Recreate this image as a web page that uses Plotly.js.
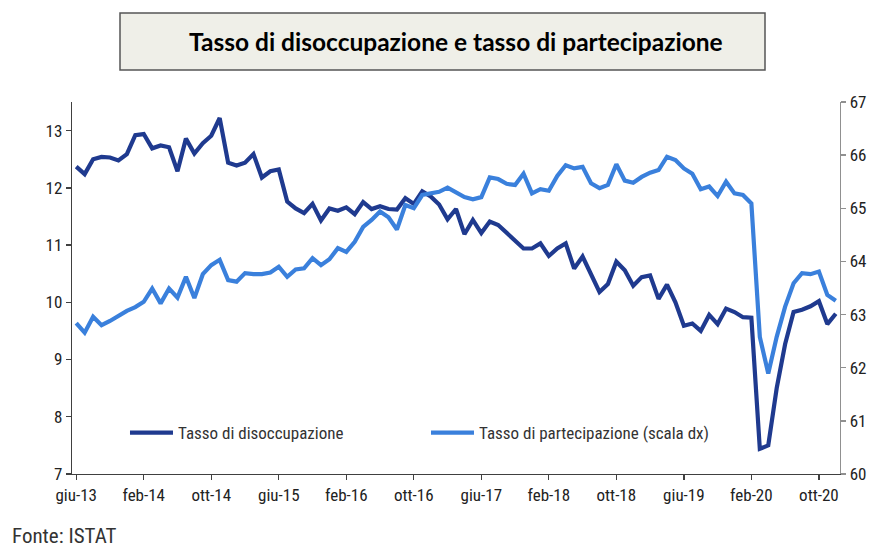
<!DOCTYPE html>
<html>
<head>
<meta charset="utf-8">
<script src="https://cdn.plot.ly/plotly-3.0.1.min.js"></script>
<style>
  html, body { margin: 0; padding: 0; background: #ffffff; }
  #chart { width: 875px; height: 547px; }
</style>
</head>
<body>
<div id="chart"></div>
<script>
// Monthly data, June 2013 -> December 2020
const tassoDisoccupazione = [
  12.37, 12.24, 12.50, 12.54, 12.53, 12.48, 12.59, 12.92, 12.94, 12.69,
  12.74, 12.71, 12.29, 12.86, 12.60, 12.78, 12.91, 13.22, 12.44, 12.39,
  12.44, 12.59, 12.18, 12.29, 12.32, 11.76, 11.64, 11.56, 11.72, 11.43,
  11.64, 11.60, 11.66, 11.54, 11.75, 11.63, 11.68, 11.63, 11.62, 11.82,
  11.72, 11.94, 11.85, 11.71, 11.45, 11.63, 11.19, 11.44, 11.21, 11.41,
  11.35, 11.21, 11.06, 10.94, 10.94, 11.03, 10.81, 10.94, 11.03, 10.59,
  10.80, 10.49, 10.18, 10.32, 10.71, 10.56, 10.29, 10.44, 10.47, 10.06,
  10.31, 10.00, 9.59, 9.63, 9.50, 9.78, 9.62, 9.89, 9.83, 9.74,
  9.73, 7.44, 7.50, 8.50, 9.27, 9.83, 9.87, 9.93, 10.02, 9.62,
  9.80
];
const tassoPartecipazione = [
  62.84, 62.66, 62.96, 62.80, 62.88, 62.98, 63.07, 63.14, 63.24, 63.49,
  63.21, 63.49, 63.32, 63.71, 63.31, 63.76, 63.93, 64.03, 63.65, 63.62,
  63.78, 63.76, 63.76, 63.79, 63.90, 63.71, 63.85, 63.87, 64.06, 63.93,
  64.04, 64.25, 64.18, 64.37, 64.65, 64.78, 64.94, 64.83, 64.60, 65.06,
  65.00, 65.25, 65.28, 65.31, 65.39, 65.30, 65.21, 65.17, 65.21, 65.58,
  65.55, 65.46, 65.44, 65.65, 65.28, 65.36, 65.33, 65.61, 65.81, 65.75,
  65.78, 65.47, 65.38, 65.44, 65.83, 65.52, 65.48, 65.59, 65.67, 65.72,
  65.97, 65.91, 65.75, 65.65, 65.36, 65.41, 65.23, 65.50, 65.28, 65.25,
  65.09, 62.58, 61.89, 62.58, 63.15, 63.59, 63.78, 63.76, 63.81, 63.37,
  63.26
];
const tickLabels = ["giu-13", "feb-14", "ott-14", "giu-15", "feb-16", "ott-16",
                    "giu-17", "feb-18", "ott-18", "giu-19", "feb-20", "ott-20"];
const tickMonths = [0, 8, 16, 24, 32, 40, 48, 56, 64, 72, 80, 88];
const seriesNames = ["Tasso di disoccupazione", "Tasso di partecipazione (scala dx)"];
const chartTitle = "Tasso di disoccupazione e tasso di partecipazione";
const sourceNote = "Fonte: ISTAT";

const monthIndex = tassoDisoccupazione.map((_, i) => i);
const narrow = '"Liberation Sans Narrow", "Arial Narrow", "Roboto Condensed", "Liberation Sans", Arial, sans-serif';

const traces = [
  {
    x: monthIndex, y: tassoDisoccupazione, name: seriesNames[0],
    type: 'scatter', mode: 'lines', yaxis: 'y',
    line: { color: '#1f3a8f', width: 4.2 }
  },
  {
    x: monthIndex, y: tassoPartecipazione, name: seriesNames[1],
    type: 'scatter', mode: 'lines', yaxis: 'y2',
    line: { color: '#3a80dc', width: 4.2 }
  }
];

const layout = {
  width: 875, height: 547,
  margin: { l: 72, r: 35, t: 102, b: 73 },
  paper_bgcolor: '#ffffff', plot_bgcolor: '#ffffff',
  font: { family: narrow, size: 17, color: '#222222' },
  showlegend: true,
  legend: {
    orientation: 'h', x: 0.069, y: 0.11, xanchor: 'left', yanchor: 'middle',
    bgcolor: 'rgba(0,0,0,0)', font: { family: narrow, size: 17, color: '#333333' },
    itemwidth: 43, entrywidth: 243, entrywidthmode: 'pixels', traceorder: 'normal'
  },
  xaxis: {
    range: [-0.5, 90.5], showgrid: false, zeroline: false,
    showline: true, linecolor: '#404040', linewidth: 1.3,
    ticks: 'outside', ticklen: 5, tickcolor: '#404040', tickwidth: 1.3,
    tickmode: 'array', tickvals: tickMonths, ticktext: tickLabels,
    tickfont: { family: narrow, size: 17, color: '#222222' }
  },
  yaxis: {
    range: [7, 13.5], showgrid: false, zeroline: false,
    showline: true, linecolor: '#404040', linewidth: 1.3,
    ticks: 'outside', ticklen: 5, tickcolor: '#404040', tickwidth: 1.3,
    tickmode: 'array', tickvals: [7, 8, 9, 10, 11, 12, 13],
    tickfont: { family: narrow, size: 17, color: '#222222' }
  },
  yaxis2: {
    range: [60, 67], overlaying: 'y', side: 'right',
    showgrid: false, zeroline: false,
    showline: true, linecolor: '#909090', linewidth: 1.3,
    ticks: 'outside', ticklen: 5, tickcolor: '#909090', tickwidth: 1.3,
    tickmode: 'array', tickvals: [60, 61, 62, 63, 64, 65, 66, 67],
    tickfont: { family: narrow, size: 17, color: '#222222' }
  },
  shapes: [
    {
      type: 'rect', xref: 'paper', yref: 'paper',
      x0: (120 - 72) / 768, x1: (765 - 72) / 768,
      y0: (474 - 70) / 372, y1: (474 - 13) / 372,
      fillcolor: '#efefe8', line: { color: '#555555', width: 1.5 }
    }
  ],
  annotations: [
    {
      text: '<b>' + chartTitle + '</b>', xref: 'paper', yref: 'paper',
      x: (456 - 72) / 768, y: (474 - 42) / 372, xanchor: 'center', yanchor: 'middle',
      showarrow: false, font: { family: 'Lato, "Open Sans", sans-serif', size: 24.5, color: '#000000' }
    },
    {
      text: sourceNote, xref: 'paper', yref: 'paper',
      x: (10 - 72) / 768, y: (474 - 536) / 372, xanchor: 'left', yanchor: 'middle',
      showarrow: false, font: { family: narrow, size: 21, color: '#333333' }
    }
  ]
};

Plotly.newPlot('chart', traces, layout, { displayModeBar: false, staticPlot: true });
</script>
</body>
</html>
